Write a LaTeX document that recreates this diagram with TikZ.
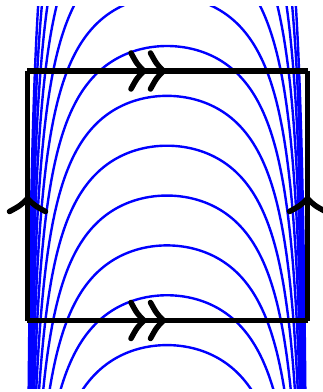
\documentclass[tikz,border=0pt]{standalone}
\begin{document}
\begin{tikzpicture}[x=1pt,y=1pt,
  leaf/.style={blue, line width=2.4pt},
  edge/.style={black, line width=5.5pt, line cap=butt},
  chevline/.style={black, line width=5.5pt, line cap=round, line join=round},
  chev/.pic={\draw[chevline] (-13,18) .. controls (-7,7) .. (0,0) .. controls (-7,-7) .. (-13,-18);}]
\useasboundingbox (0,0) rectangle (323,392);
\begin{scope}
  \clip (0,3) rectangle (323,385);
  \foreach \j in {-6,-5,...,6} {
    \pgfmathsetmacro\Y{392-46-49.85*\j}
    \pgfmathsetmacro\S{sqrt((-9.217+sqrt(84.95+4*(\Y+3)/9.83))/2)}
    \draw[leaf] plot[domain=-\S:\S, samples=200, variable=\s, smooth]
      ({167+142*tanh(\s)}, {\Y-90.6*\s*\s-9.83*\s*\s*\s*\s});
  }
\end{scope}
% square edges
\draw[edge] (27,321) -- (307.5,321);
\draw[edge] (27,71.5) -- (307.5,71.5);
\draw[edge] (27.5,320.5) -- (27.5,70.5);
\draw[edge] (307.5,320.5) -- (307.5,70.5);
% chevrons
\pic at (144,321) {chev};
\pic at (163.5,321) {chev};
\pic at (144,71.5) {chev};
\pic at (163.5,71.5) {chev};
\pic[rotate=90] at (27.5,193.5) {chev};
\pic[rotate=90] at (307.5,193.5) {chev};
\end{tikzpicture}
\end{document}
